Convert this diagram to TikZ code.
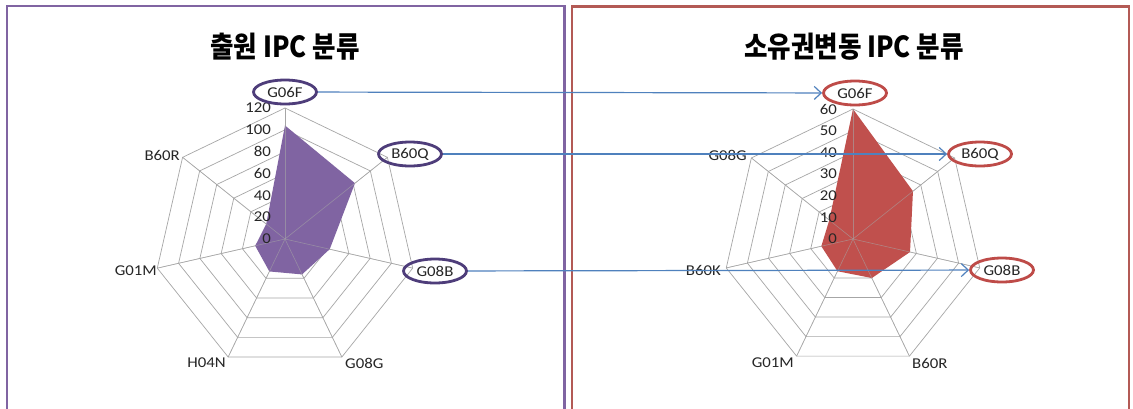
\documentclass[tikz,border=0pt]{standalone}
\usepackage{fontspec}
\usetikzlibrary{arrows.meta,shapes.geometric}
\newfontfamily\krfont[FakeStretch=0.88]{Noto Sans CJK KR}
\newfontfamily\labfont[FakeStretch=1.12]{Carlito}
\definecolor{purp}{HTML}{8064A2}
\definecolor{purpdark}{HTML}{4E3D7A}
\definecolor{redf}{HTML}{C0504D}
\definecolor{redframe}{HTML}{B35A55}
\definecolor{redell}{HTML}{BE4B48}
\definecolor{arrowc}{HTML}{4F81BD}
\definecolor{gridc}{HTML}{A6A6A6}
\tikzset{
  gridline/.style={draw=gridc, line width=0.7pt},
  spoke/.style={draw=gridc, line width=0.6pt},
  axlab/.style={font=\labfont\fontsize{15}{16}\selectfont, inner sep=0pt, text=black!85},
  numlab/.style={axlab, anchor=east},
  ell/.style={ellipse, axlab, line width=2.8pt, minimum width=63pt, minimum height=24pt, inner sep=0pt},
  conn/.style={draw=arrowc, line width=1.2pt, -{Straight Barb[length=7pt,width=13pt]}},
  titlelab/.style={font=\krfont\bfseries\fontsize{29}{32}\selectfont, inner sep=0pt},
  frame/.style={line width=2.5pt}
}
\begin{document}
\begin{tikzpicture}[x=1pt,y=-1pt]
\useasboundingbox (0,0) rectangle (1133,408);
\fill[white] (0,0) rectangle (1133,408);
% frames
\draw[frame, draw=purp] (7,412) -- (7,6) -- (564.5,6) -- (564.5,412);
\draw[frame, draw=redframe] (572,412) -- (572,6.5) -- (1129,6.5) -- (1129,412);
% titles
\node[titlelab] (lt) at (285,47) {출원 IPC 분류};
\node[titlelab] (rt) at (854,47) {소유권변동 IPC 분류};
% left radar
\begin{scope}[shift={(285,239)}]
  \foreach \r in {1,...,6}
    \draw[gridline] (-90:\r*131/6) \foreach \k in {1,...,6} { -- (-90+\k*360/7:\r*131/6) } -- cycle;
  \foreach \k in {0,...,6} \draw[spoke] (0,0) -- (-90+\k*360/7:131);
  \fill[purp] (-90:104*131/120) -- (-90+360/7:82*131/120) -- (-90+2*360/7:42*131/120)
     -- (-90+3*360/7:36*131/120) -- (-90+4*360/7:33*131/120) -- (-90+5*360/7:28*131/120)
     -- (-90+6*360/7:22*131/120) -- cycle;
  \foreach \k in {0,...,6} \draw[spoke, opacity=0.6] (0,0) -- (-90+\k*360/7:131);
\end{scope}
\foreach \v [count=\i from 0] in {0,20,...,120}
  \node[numlab] (ln\i) at (271,239-\i*131/6) {\v};
% right radar
\begin{scope}[shift={(853,239)}]
  \foreach \r in {1,...,6}
    \draw[gridline] (-90:\r*130/6) \foreach \k in {1,...,6} { -- (-90+\k*360/7:\r*130/6) } -- cycle;
  \foreach \k in {0,...,6} \draw[spoke] (0,0) -- (-90+\k*360/7:130);
  \fill[redf] (-90:60*130/60) -- (-90+360/7:35.4*130/60) -- (-90+2*360/7:27*130/60)
     -- (-90+3*360/7:20*130/60) -- (-90+4*360/7:16.5*130/60) -- (-90+5*360/7:15*130/60)
     -- (-90+6*360/7:14*130/60) -- cycle;
  \foreach \k in {0,...,6} \draw[spoke, opacity=0.6] (0,0) -- (-90+\k*360/7:130);
\end{scope}
\foreach \v [count=\i from 0] in {0,10,...,60}
  \node[numlab] (rn\i) at (837,239-\i*130/6) {\v};
% left axis labels
\node[ell, draw=purpdark] (lG06F) at (285,92) {G06F};
\node[ell, draw=purpdark] (lB60Q) at (410,154) {B60Q};
\node[ell, draw=purpdark] (lG08B) at (435,271) {G08B};
\node[axlab, anchor=west] (lG08G) at (345,363) {G08G};
\node[axlab, anchor=east] (lH04N) at (226,363) {H04N};
\node[axlab, anchor=east] (lG01M) at (157,271) {G01M};
\node[axlab, anchor=east] (lB60R) at (180,155) {B60R};
% right axis labels
\node[ell, draw=redell] (rG06F) at (855,93) {G06F};
\node[ell, draw=redell] (rB60Q) at (980,154) {B60Q};
\node[ell, draw=redell] (rG08B) at (1002,270) {G08B};
\node[axlab, anchor=east] (rG08G) at (747,155) {G08G};
\node[axlab, anchor=east] (rB60K) at (721,270) {B60K};
\node[axlab, anchor=east] (rG01M) at (794,363) {G01M};
\node[axlab, anchor=west] (rB60R) at (912,363) {B60R};
% connectors
\draw[conn] (lG06F) -- (rG06F);
\draw[conn] (lB60Q) -- (rB60Q);
\draw[conn] (lG08B) -- (rG08B);
\end{tikzpicture}
\end{document}
